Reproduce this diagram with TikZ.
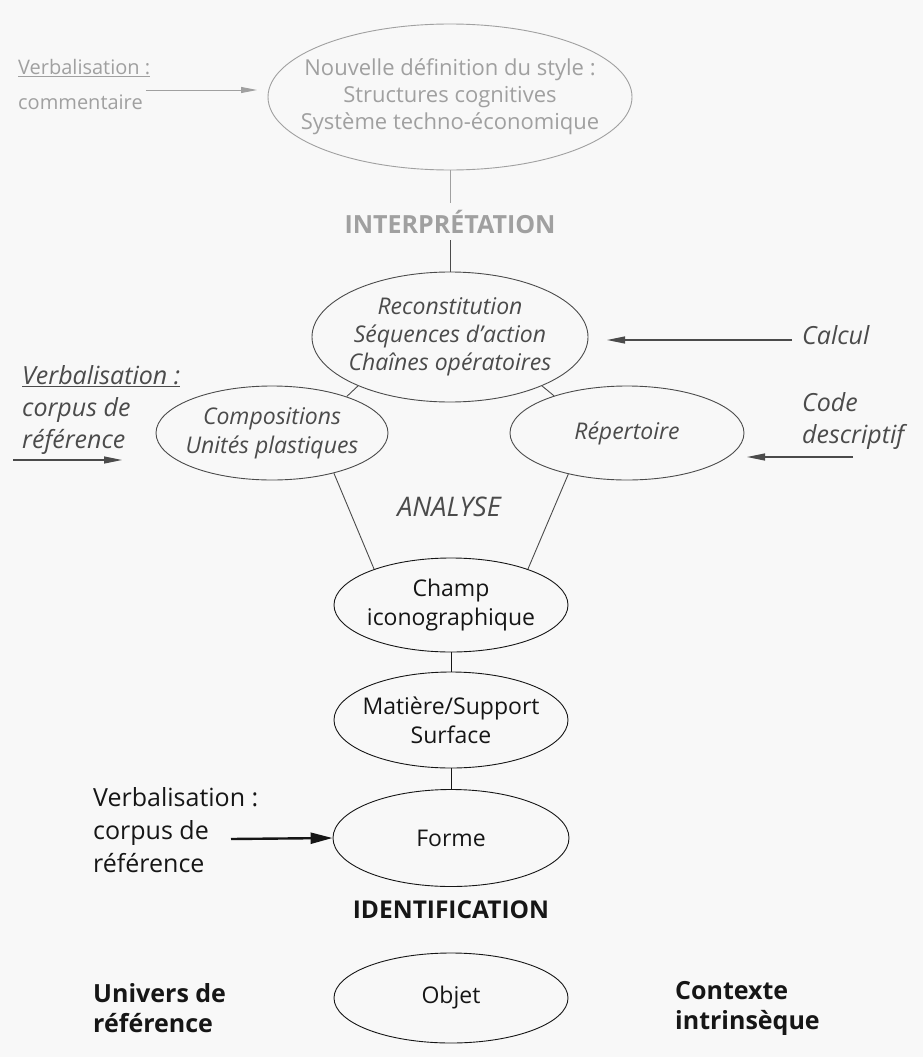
\documentclass[tikz,border=0pt]{standalone}
\usepackage{fontspec}
\setmainfont{Open Sans}
\usetikzlibrary{shapes.geometric,arrows.meta}
\definecolor{bg}{RGB}{248,248,248}
\definecolor{lite}{RGB}{160,160,160}
\definecolor{mid}{RGB}{75,75,75}
\definecolor{ink}{RGB}{22,22,22}
\begin{document}
\begin{tikzpicture}[x=1pt,y=-1pt,
  ell/.style={ellipse,draw=#1,line width=0.9pt,inner sep=0pt},
  lbl/.style={inner sep=0pt,align=center},
  litel/.style={draw=lite,line width=0.9pt},
  midl/.style={draw=mid,line width=0.9pt},
  inkl/.style={draw=ink,line width=0.9pt},
  greyarrow/.style={draw=lite,line width=0.9pt,-{Triangle[length=16pt,width=6pt]}},
  thinarrow/.style={draw=mid,line width=1.2pt,-{Triangle[length=18pt,width=7pt]}},
  thickarrow/.style={draw=ink,line width=2.4pt,-{Triangle[length=22pt,width=11pt]}},
  txt/.style={inner sep=0pt,anchor=west,align=left}
]
\fill[bg] (0,0) rectangle (923,1057);
\useasboundingbox (0,0) rectangle (923,1057);

% --- interpretation (grey) ---
\node[ell=lite, minimum width=364, minimum height=146] (top) at (450,97) {};
\node[lbl, text=lite, font=\fontsize{22}{27}\selectfont] (topt) at (top.center)
  {Nouvelle définition du style :\\Structures cognitives\\Système techno-économique};
\node[font=\bfseries\fontsize{25}{28}\selectfont, text=lite, minimum height=37, inner sep=0pt] (interp) at (450,221.5) {INTERPRÉTATION};
\node[txt, text=lite, font=\fontsize{20}{34}\selectfont] (vt1) at (18,68) {\underline{Verbalisation :}};
\node[txt, text=lite, font=\fontsize{20}{34}\selectfont] (vt2) at (18,102) {commentaire};
\coordinate (topin) at (257,90);
\draw[greyarrow] (vt2.east |- topin) ++(3,0) -- (topin);

% --- analysis ---
\node[ell=mid, minimum width=276, minimum height=130] (recon) at (450,337) {};
\node[lbl, text=mid, font=\itshape\fontsize{23}{28}\selectfont] (recont) at (recon.center)
  {Reconstitution\\Séquences d'action\\Chaînes opératoires};
\draw[litel] (top) -- (interp);
\draw[midl] (interp) -- (recon);

\node[ell=mid, minimum width=232, minimum height=94] (comp) at (272,433) {};
\node[lbl, text=mid, font=\itshape\fontsize{23}{29}\selectfont] (compt) at (comp.center)
  {Compositions\\Unités plastiques};
\node[ell=mid, minimum width=234, minimum height=94] (rep) at (627,433) {};
\node[lbl, text=mid, font=\itshape\fontsize{23}{29}\selectfont] (rept) at (rep.center) {Répertoire};
\node[text=mid, font=\itshape\fontsize{27}{30}\selectfont, inner sep=0pt] (analyse) at (449,507) {ANALYSE};

\node[txt, text=mid, font=\itshape\fontsize{25}{32}\selectfont] (vl) at (22,410)
  {\underline{Verbalisation :}\\corpus de\\référence};
\coordinate (la) at (13,460);
\coordinate (lb) at (122,460);
\draw[thinarrow] (la) -- (lb);

\node[txt, text=mid, font=\itshape\fontsize{25}{32}\selectfont] (calcul) at (802,335) {Calcul};
\coordinate (calin) at (607,340);
\draw[thinarrow] (calcul.west |- calin) ++(-10,0) -- (calin);
\node[txt, text=mid, font=\itshape\fontsize{25}{32}\selectfont] (code) at (802,421) {Code\\descriptif};
\coordinate (ca) at (853,457);
\coordinate (cb) at (747,457);
\draw[thinarrow] (ca) -- (cb);

\draw[midl] (recon.208) -- (comp.26);
\draw[midl] (recon.332) -- (rep.153);

% --- identification ---
\node[ell=ink, minimum width=234, minimum height=94] (champ) at (451,605) {};
\node[lbl, text=ink, font=\fontsize{23}{29}\selectfont] (champt) at (champ.center) {Champ\\iconographique};
\draw[midl] (comp.-33) -- (champ.155);
\draw[midl] (rep.215) -- (champ.25);
\node[ell=ink, minimum width=234, minimum height=96] (mat) at (451,720) {};
\node[lbl, text=ink, font=\fontsize{23}{29}\selectfont] (matt) at (mat.center) {Matière/Support\\Surface};
\node[ell=ink, minimum width=236, minimum height=97] (forme) at (451,838) {};
\node[lbl, text=ink, font=\fontsize{23}{29}\selectfont] (formet) at (forme.center) {Forme};
\draw[inkl] (champ) -- (mat);
\draw[inkl] (mat) -- (forme);

\node[txt, text=ink, font=\fontsize{25}{33}\selectfont] (vb) at (93,830)
  {Verbalisation :\\corpus de\\référence};
\coordinate (fa) at (231,839);
\draw[thickarrow] (fa) -- (forme.west);

\node[text=ink, font=\bfseries\fontsize{24.5}{29}\selectfont, inner sep=0pt] (ident) at (451,910) {IDENTIFICATION};
\node[ell=ink, minimum width=234, minimum height=90] (objet) at (451,998) {};
\node[lbl, text=ink, font=\fontsize{23}{29}\selectfont] (objett) at (objet.center) {Objet};
\node[txt, text=ink, font=\bfseries\fontsize{25}{30}\selectfont] (univ) at (93,1008) {Univers de\\référence};
\node[txt, text=ink, font=\bfseries\fontsize{25}{30}\selectfont] (ctx) at (675,1008) {Contexte\\intrinsèque};
\end{tikzpicture}
\end{document}
